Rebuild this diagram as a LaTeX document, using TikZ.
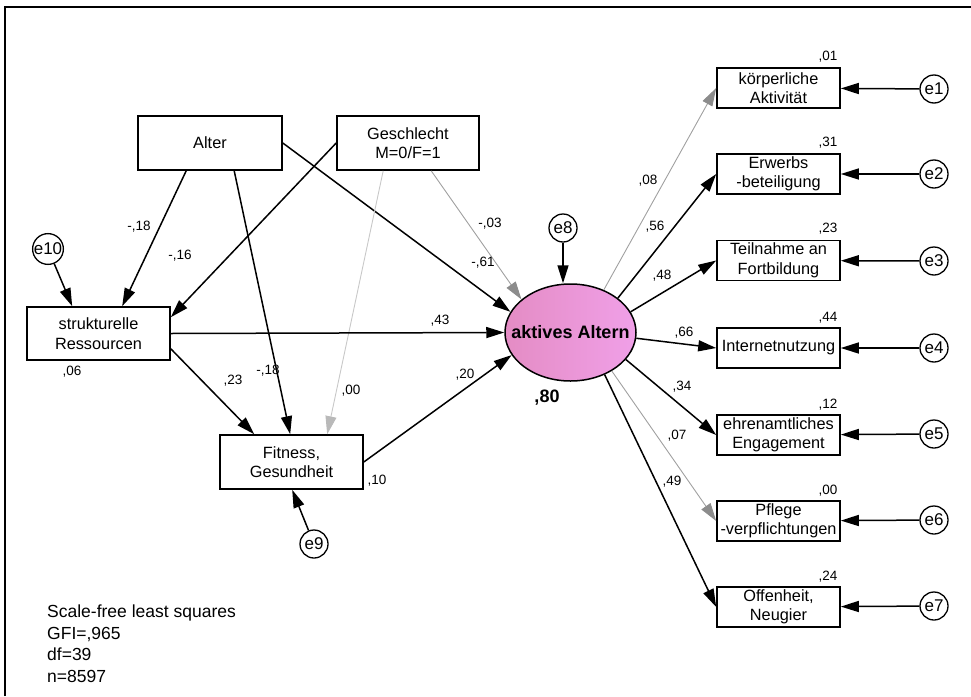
\documentclass[tikz,border=0pt]{standalone}
\usepackage{fontspec}
\setmainfont{Liberation Sans}
\usetikzlibrary{arrows.meta,shapes.geometric,calc}
\definecolor{weakline}{RGB}{160,160,160}
\definecolor{weakhead}{RGB}{140,140,140}
\definecolor{faintline}{RGB}{200,200,200}
\definecolor{fainthead}{RGB}{185,185,185}
\definecolor{latentL}{RGB}{228,140,196}
\definecolor{latentR}{RGB}{240,160,232}

\begin{document}
\begin{tikzpicture}[x=1pt,y=-1pt,
  box/.style={draw,line width=1.6pt,inner sep=0pt,align=center,
    font=\fontsize{16.3}{19.5}\selectfont},
  bigbox/.style={box,minimum width=144pt,minimum height=54pt},
  ind/.style={box,minimum width=123pt,minimum height=40pt},
  err/.style={circle,draw,line width=1.3pt,inner sep=0pt,minimum size=28pt,
    font=\fontsize{17}{17}\selectfont},
  coef/.style={inner sep=0pt,font=\fontsize{13.5}{13.5}\selectfont},
  arr/.style={line width=1.5pt,-{Triangle[length=18pt,width=11pt]}},
  weakarr/.style={line width=0.9pt,draw=weakline,
    -{Triangle[length=18pt,width=11pt,color=weakhead]}},
  faintarr/.style={line width=0.9pt,draw=faintline,
    -{Triangle[length=18pt,width=11pt,color=fainthead]}},
]
\useasboundingbox (0,0) rectangle (971,696);

% outer frame (open to the right and bottom)
\draw[line width=1.5pt] (5,696) -- (5,7) -- (971,7);

% exogenous and mediating variables
\node[bigbox] (alt) at (210,143) {Alter};
\node[bigbox,minimum width=142pt] (gen) at (408,143) {Geschlecht\\M=0/F=1};
\node[bigbox,minimum width=143pt,minimum height=53pt] (str) at (98.5,333.5) {strukturelle\\Ressourcen};
\node[bigbox,minimum width=143pt] (fit) at (291.5,462) {Fitness,\\Gesundheit};

% latent factor
\node[ellipse,draw,line width=1.5pt,minimum width=131pt,minimum height=97pt,
  inner sep=0pt,left color=latentL,right color=latentR,
  font=\bfseries\fontsize{18}{18}\selectfont] (ell) at (570.5,332.5)
  {\makebox[0pt]{aktives Altern}};
\node[inner sep=0pt,font=\bfseries\fontsize{18}{18}\selectfont] (r2ell) at (547,398) {,80};

% indicators
\node[ind] (b1) at (778.5,88) {körperliche\\Aktivität};
\node[ind] (b2) at (778.5,174) {Erwerbs\\-beteiligung};
\node[ind] (b3) at (778.5,260.5) {Teilnahme an\\Fortbildung};
\node[ind] (b4) at (778.5,348) {Internetnutzung};
\node[ind] (b5) at (778.5,435) {ehrenamtliches\\Engagement};
\node[ind] (b6) at (778.5,521) {Pflege\\-verpflichtungen};
\node[ind] (b7) at (778.5,607) {Offenheit,\\Neugier};

% error terms
\node[err] (e1) at (934,89) {e1};
\node[err] (e2) at (934,174) {e2};
\node[err] (e3) at (934,261) {e3};
\node[err] (e4) at (934,348) {e4};
\node[err] (e5) at (934,434) {e5};
\node[err] (e6) at (934,520) {e6};
\node[err] (e7) at (934,606) {e7};
\node[err] (e8) at (563,228) {e8};
\node[err] (e9) at (314,544) {e9};
\node[err] (e10) at (48,249) {e10};

% structural paths
\draw[arr] ($(alt.south west)+(49,0)$) -- ($(str.north west)+(96,0)$);
\draw[arr] ($(alt.south west)+(97,0)$) -- ($(fit.north west)+(71,0)$);
\draw[arr] (alt.east) -- (ell.161);
\draw[arr] (gen.west) -- ($(str.north east)+(0,11)$);
\draw[faintarr] ($(gen.south west)+(47,0)$) -- ($(fit.north west)+(108,0)$);
\draw[weakarr] ($(gen.south west)+(95,0)$) -- (ell.146);
\draw[arr] (str.east) -- (ell.180);
\draw[arr] ($(str.south east)+(0,-12)$) -- ($(fit.north west)+(35,0)$);
\draw[arr] (fit.east) -- (ell.201);

% disturbances
\draw[arr] (e10) -- ($(str.north west)+(46,0)$);
\draw[arr] (e9) -- ($(fit.south west)+(73,0)$);
\draw[arr] (e8) -- (e8 |- ell.north);

% measurement paths
\draw[weakarr] (ell.52) -- (b1.west);
\draw[arr] (ell.36) -- (b2.west);
\draw[arr] (ell.19) -- (b3.west);
\draw[arr] (ell.-5) -- (b4.west);
\draw[arr] (ell.-26) -- (b5.west);
\draw[weakarr] (ell.-43) -- (b6.west);
\draw[arr] (ell.-51) -- (b7.west);

\foreach \i in {1,...,7} {\draw[arr] (e\i) -- (b\i);}

% path coefficients
\node[coef] (c1) at (139,227) {-,18};
\node[coef] (c2) at (180,256) {-,16};
\node[coef] (c3) at (483,263) {-,61};
\node[coef] (c4) at (490,224) {-,03};
\node[coef] (c5) at (440,321) {,43};
\node[coef] (c6) at (233,381) {,23};
\node[coef] (c7) at (268,371) {-,18};
\node[coef] (c8) at (351,391) {,00};
\node[coef] (c9) at (465,375) {,20};
\node[coef] (c10) at (648,181) {,08};
\node[coef] (c11) at (655,227) {,56};
\node[coef] (c12) at (662,276) {,48};
\node[coef] (c13) at (684,333) {,66};
\node[coef] (c14) at (682,387) {,34};
\node[coef] (c15) at (677,436) {,07};
\node[coef] (c16) at (672,482) {,49};

% squared multiple correlations
\node[coef] (r1) at (828,57) {,01};
\node[coef] (r2) at (828,143) {,31};
\node[coef] (r3) at (828,229) {,23};
\node[coef] (r4) at (828,318) {,44};
\node[coef] (r5) at (828,405) {,12};
\node[coef] (r6) at (828,491) {,00};
\node[coef] (r7) at (828,577) {,24};
\node[coef] (r8) at (72,372) {,06};
\node[coef] (r9) at (377,481) {,10};

% fit summary
\node[anchor=north west,align=left,inner sep=0pt,
  font=\fontsize{17.5}{21.5}\selectfont] (fitinfo) at (47,605)
  {Scale-free least squares\\GFI=,965\\df=39\\n=8597};
\end{tikzpicture}
\end{document}
